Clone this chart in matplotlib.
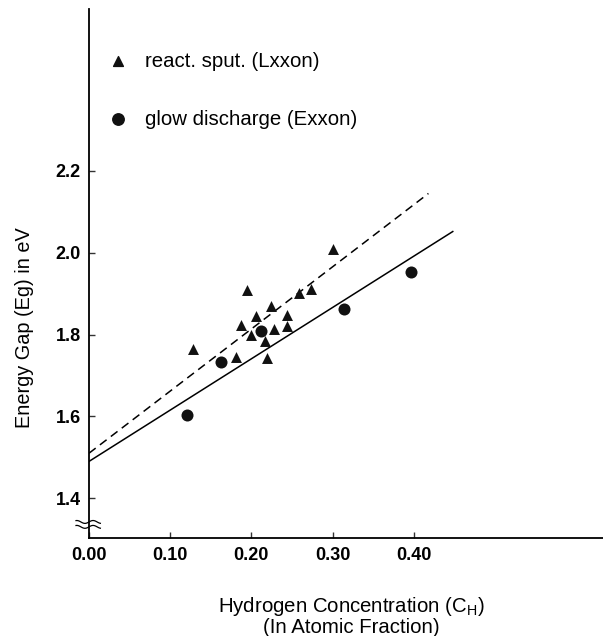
import numpy as np
from matplotlib import pyplot as plt
from matplotlib.lines import Line2D

# reactive sputtering (triangles)
sput_x = [0.128, 0.194, 0.224, 0.206, 0.244, 0.187, 0.228, 0.244, 0.200,
          0.217, 0.181, 0.219, 0.259, 0.274, 0.300]
sput_y = [1.766, 1.909, 1.871, 1.845, 1.849, 1.823, 1.814, 1.821, 1.800,
          1.784, 1.745, 1.743, 1.901, 1.912, 2.009]

# glow discharge (circles)
glow_x = [0.121, 0.162, 0.212, 0.314, 0.397]
glow_y = [1.604, 1.732, 1.809, 1.862, 1.953]

# fit lines (end points)
dash_x = [0.0, 0.418]
dash_y = [1.510, 2.145]
solid_x = [0.0, 0.448]
solid_y = [1.490, 2.052]

x_ticks = [0.0, 0.1, 0.2, 0.3, 0.4]
x_labels = ['0.00', '0.10', '0.20', '0.30', '0.40']
y_ticks = [1.4, 1.6, 1.8, 2.0, 2.2]
y_labels = ['1.4', '1.6', '1.8', '2.0', '2.2']

plt.rcParams['font.family'] = ['Liberation Sans', 'DejaVu Sans']

fig = plt.figure(figsize=(6.03, 6.36), dpi=100)
ax = fig.add_axes([89 / 603, 1 - 537.7 / 636, 1 - 89 / 603, (537.7 - 9) / 636])

ax.plot(dash_x, dash_y, color='black', linestyle=(0, (5.5, 3.5)), linewidth=1.1)
ax.plot(solid_x, solid_y, color='black', linewidth=1.1)
ax.scatter(sput_x, sput_y, marker='^', s=62, color='#111111', zorder=3, linewidths=0)
ax.scatter(glow_x, glow_y, marker='o', s=75, color='#111111', zorder=3, linewidths=0)

ax.set_xlim(0, 0.633)
ax.set_ylim(1.3035, 2.596)

ax.spines['top'].set_visible(False)
ax.spines['right'].set_visible(False)
ax.spines['left'].set_linewidth(1.3)
ax.spines['bottom'].set_linewidth(1.3)

ax.set_xticks(x_ticks)
ax.set_xticklabels(x_labels, fontweight='bold', fontsize=13)
ax.set_yticks(y_ticks)
ax.set_yticklabels(y_labels, fontweight='bold', fontsize=13)
ax.tick_params(axis='both', direction='in', length=4, width=1, color='#333333')
ax.tick_params(axis='x', pad=7)
ax.tick_params(axis='y', pad=6)

# legend written by hand
ax.scatter([0.036], [2.468], marker='^', s=50, color='#111111', clip_on=False)
ax.text(0.069, 2.468, 'react. sput. (Lxxon)', fontsize=14.7, va='center')
ax.scatter([0.036], [2.326], marker='o', s=68, color='#111111', clip_on=False)
ax.text(0.069, 2.326, 'glow discharge (Exxon)', fontsize=14.7, va='center')

# axis break mark on the y axis
t = np.linspace(-0.016, 0.014, 60)
for y0 in (1.342, 1.330):
    ax.add_line(Line2D(t, y0 + 0.0035 * np.sin(t / 0.03 * 2 * np.pi * 1.5),
                       color='black', linewidth=0.9, clip_on=False))

ax.set_xlabel('Hydrogen Concentration (C$_\\mathregular{H}$)\n(In Atomic Fraction)',
              fontsize=14.7, linespacing=1.0)
ax.xaxis.set_label_coords((351.5 - 89) / (603 - 89), -0.108)
ax.xaxis.label.set_va('top')
ax.set_ylabel('Energy Gap (Eg) in eV', fontsize=14.3)
ax.yaxis.set_label_coords(-0.107, (537.7 - 328) / 528.7)

fig.savefig('out.png', dpi=100)
